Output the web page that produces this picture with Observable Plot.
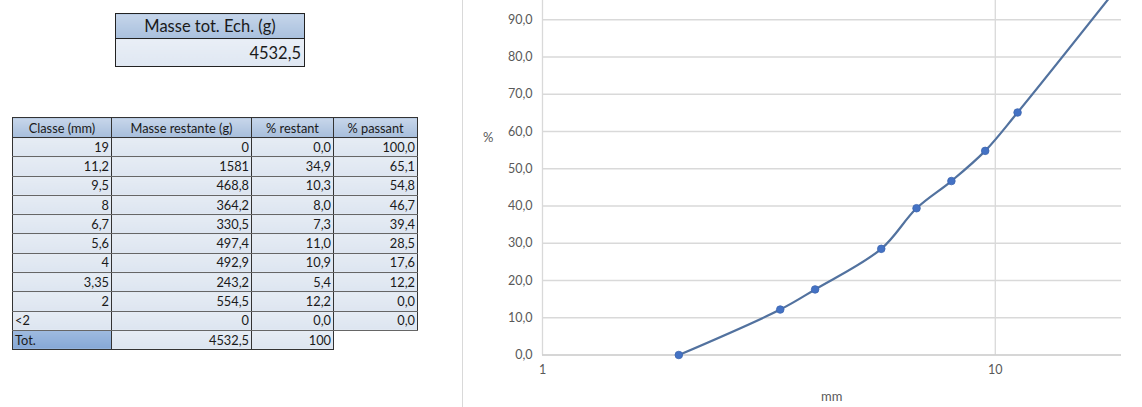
<!DOCTYPE html>
<html>
<head>
<meta charset="utf-8">
<script src="https://cdn.jsdelivr.net/npm/d3@7"></script>
<script src="https://cdn.jsdelivr.net/npm/@observablehq/plot@0.6"></script>
<style>
  html, body { margin: 0; padding: 0; background: #fff; width: 1142px; height: 407px; overflow: hidden; position: relative; font-family: Lato, "Noto Sans", sans-serif; }
  table { border-collapse: collapse; position: absolute; font-family: Lato, "Noto Sans", sans-serif; color: #1a1a1a; }
  #tot { left: 115px; top: 13px; width: 190px; }
  #tot th { height: 24px; font-size: 16.5px; font-weight: normal; background: linear-gradient(#c5d5ea, #a9c0de); border: 1.5px solid #222; padding: 0; }
  #tot td { height: 27px; font-size: 16.5px; text-align: right; background: linear-gradient(#e9eef6, #dfe7f2); border: 1.5px solid #222; padding: 0 3px 0 0; }
  #main { left: 12px; top: 117px; font-size: 12.8px; }
  #main th { height: 19px; font-weight: normal; background: linear-gradient(#c7d6ea, #a7bedc); border: 1.3px solid #333; padding: 0; }
  #main td { height: 18.3px; padding: 0 2px 0 2px; text-align: right; background: linear-gradient(#e6ecf4, #dde5f0); border-left: 1.3px solid #333; border-right: 1.3px solid #333; border-bottom: 1px solid #666; line-height: 17px; }
  #main td.l { text-align: left; }
  #main td.totl { background: linear-gradient(#9fbbe0, #86a8d6); }
  #main tr:last-child td { border-bottom: 1.3px solid #333; }
  #main tr:last-child td.empty { background: #fff; border-right: none; border-bottom: none; }
  #chartbox { position: absolute; left: 462px; top: 0; width: 680px; height: 407px; border-left: 1px solid #d9d9d9; }
  #plotwrap { position: absolute; left: 463px; top: -30px; }
  .lbl { position: absolute; font-family: Lato, "Noto Sans", sans-serif; font-size: 13px; color: #595959; }
</style>
</head>
<body>
<table id="tot"></table>
<table id="main"></table>
<div id="chartbox"></div>
<div id="plotwrap"></div>
<div class="lbl" style="left:483px; top:129px;">%</div>
<div class="lbl" style="left:821px; top:388px;">mm</div>
<script>
// ---- data ----
const classLabels = ["19", "11,2", "9,5", "8", "6,7", "5,6", "4", "3,35", "2", "<2", "Tot."];
const sieveSizes = [19, 11.2, 9.5, 8, 6.7, 5.6, 4, 3.35, 2];
const massRemaining = [0, 1581, 468.8, 364.2, 330.5, 497.4, 492.9, 243.2, 554.5, 0, 4532.5];
const pctRemaining = [0.0, 34.9, 10.3, 8.0, 7.3, 11.0, 10.9, 5.4, 12.2, 0.0, 100];
const pctPassing = [100.0, 65.1, 54.8, 46.7, 39.4, 28.5, 17.6, 12.2, 0.0, 0.0];
const totalMass = 4532.5;
const headers = ["Classe (mm)", "Masse restante (g)", "% restant", "% passant"];
const yTicks = [0, 10, 20, 30, 40, 50, 60, 70, 80, 90];
const xTicks = [1, 10];

const fr = v => String(v).replace(".", ",");
const fr1 = v => v.toFixed(1).replace(".", ",");

// ---- total mass table ----
document.getElementById("tot").innerHTML =
  `<tr><th>Masse tot. Ech. (g)</th></tr><tr><td>${fr(totalMass)}</td></tr>`;

// ---- main table ----
const colW = [98, 139, 81, 83];
let html = "<tr>" + headers.map((h, i) => `<th style="width:${colW[i]}px">${h}</th>`).join("") + "</tr>";
classLabels.forEach((c, i) => {
  const isTot = c === "Tot.";
  const left = c === "<2" || isTot;
  html += "<tr>";
  html += `<td class="${left ? "l" : ""} ${isTot ? "totl" : ""}">${c}</td>`;
  html += `<td>${fr(massRemaining[i])}</td>`;
  html += `<td>${isTot ? fr(pctRemaining[i]) : fr1(pctRemaining[i])}</td>`;
  html += i < pctPassing.length ? `<td>${fr1(pctPassing[i])}</td>` : `<td class="empty"></td>`;
  html += "</tr>";
});
document.getElementById("main").innerHTML = html;

// ---- chart ----
const curve = sieveSizes.map((s, i) => ({size: s, pass: pctPassing[i]}));
const chart = Plot.plot({
  width: 679,
  height: 437,
  marginLeft: 79,
  marginRight: 21,
  marginTop: 12,
  marginBottom: 52.5,
  style: {color: "#595959", fontFamily: "Lato, 'Noto Sans', sans-serif", fontSize: "12.5px", background: "transparent"},
  x: {type: "log", domain: [1, 19]},
  y: {domain: [0, 100]},
  marks: [
    Plot.ruleY(yTicks.filter(d => d > 0), {stroke: "#d9d9d9", strokeWidth: 1.3}),
    Plot.ruleX(xTicks, {stroke: "#d9d9d9", strokeWidth: 1.3}),
    Plot.ruleY([0], {stroke: "#c8c8c8", strokeWidth: 1.5}),
    Plot.axisY(yTicks, {tickSize: 0, tickPadding: 10, tickFormat: fr1, label: null, fontSize: 12.5}),
    Plot.axisX(xTicks, {tickSize: 0, tickPadding: 10, tickFormat: d => String(d), label: null, fontSize: 12.5}),
    Plot.line(curve, {x: "size", y: "pass", curve: "catmull-rom", stroke: "#52729f", strokeWidth: 2.2}),
    Plot.dot(curve, {x: "size", y: "pass", r: 3.8, fill: "#4472c4", stroke: "#3d66b0", strokeWidth: 0.8})
  ]
});
document.getElementById("plotwrap").appendChild(chart);
</script>
</body>
</html>
